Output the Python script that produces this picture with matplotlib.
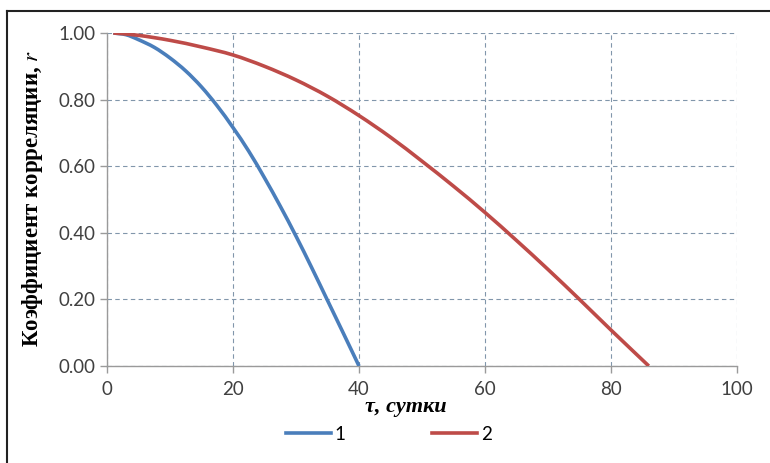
import matplotlib
matplotlib.use('Agg')
import matplotlib.pyplot as plt
from matplotlib.lines import Line2D
from matplotlib.path import Path
from matplotlib.patches import PathPatch

# curve 1
tau_1 = [1, 3, 5, 7.5, 10, 12.5, 15, 17.5, 20, 22.5, 25, 27.5, 30, 32.5, 35, 37.5, 40]
r_1 = [1.0, 0.995, 0.98, 0.957, 0.925, 0.886, 0.838, 0.781, 0.716, 0.645, 0.565,
       0.48, 0.39, 0.295, 0.197, 0.099, 0.0]

# curve 2
tau_2 = [1, 5, 10, 15, 20, 25, 30, 35, 40, 45, 50, 55, 60, 65, 70, 75, 80, 86]
r_2 = [1.0, 0.993, 0.978, 0.958, 0.934, 0.90, 0.859, 0.81, 0.752, 0.687, 0.615,
       0.54, 0.461, 0.377, 0.29, 0.20, 0.108, 0.0]

x_ticks = [0, 20, 40, 60, 80, 100]
y_ticks = [0.0, 0.2, 0.4, 0.6, 0.8, 1.0]
series_names = ['1', '2']

blue = '#4a7ebb'
red = '#be4b48'
lw = 2.6


def smooth_path(xs, ys):
    # excel-like smoothed line: bezier segments through the points
    pts = list(zip(xs, ys))
    verts = [pts[0]]
    codes = [Path.MOVETO]
    n = len(pts)
    for i in range(n - 1):
        p0 = pts[i - 1] if i > 0 else pts[i]
        p1 = pts[i]
        p2 = pts[i + 1]
        p3 = pts[i + 2] if i + 2 < n else pts[i + 1]
        c1 = (p1[0] + (p2[0] - p0[0]) / 6, p1[1] + (p2[1] - p0[1]) / 6)
        c2 = (p2[0] - (p3[0] - p1[0]) / 6, p2[1] - (p3[1] - p1[1]) / 6)
        verts += [c1, c2, p2]
        codes += [Path.CURVE4] * 3
    return Path(verts, codes)


plt.rcParams['mathtext.fontset'] = 'stix'

fig = plt.figure(figsize=(7.7, 4.63), dpi=100)
ax = fig.add_axes([107 / 770, 1 - 366 / 463, 630 / 770, 333 / 463])

ax.add_patch(PathPatch(smooth_path(tau_1, r_1), facecolor='none', edgecolor=blue,
                       linewidth=lw, capstyle='butt', zorder=3))
ax.add_patch(PathPatch(smooth_path(tau_2, r_2), facecolor='none', edgecolor=red,
                       linewidth=lw, capstyle='butt', zorder=3))

ax.set_xlim(0, 100)
ax.set_ylim(0, 1.0)
ax.set_xticks(x_ticks)
ax.set_yticks(y_ticks)
ax.set_yticklabels(['%.2f' % v for v in y_ticks])
ax.grid(True, color='#8196ab', linestyle=(0, (4, 3)), linewidth=0.8)
ax.set_axisbelow(True)

for side in ['top', 'right']:
    ax.spines[side].set_visible(False)
for side in ['left', 'bottom']:
    ax.spines[side].set_color('#9a9a9a')
    ax.spines[side].set_linewidth(1.0)

ax.tick_params(axis='both', colors='#9a9a9a', length=5, width=1.0,
               labelcolor='#404040', labelsize=13.5)
ax.tick_params(axis='x', pad=6)
ax.tick_params(axis='y', pad=3)
for lab in ax.get_xticklabels() + ax.get_yticklabels():
    lab.set_fontfamily('Lato')

fig.text(33 / 770, 1 - 198 / 463, 'Коэффициент корреляции, $r$', rotation=90,
         ha='center', va='center', fontsize=16.5, fontweight='bold',
         family='Liberation Serif')
fig.text(365 / 770, 1 - 407 / 463, 'τ, сутки', ha='left', va='center',
         fontsize=16, fontweight='bold', fontstyle='italic',
         family='Liberation Serif')

handles = [Line2D([], [], color=blue, linewidth=lw),
           Line2D([], [], color=red, linewidth=lw)]
leg = fig.legend(handles, series_names, loc='center', ncol=2, frameon=False,
                 bbox_to_anchor=(389 / 770, 1 - 434 / 463), handlelength=2.4,
                 handletextpad=0.2, columnspacing=4.6,
                 prop={'family': 'Lato', 'size': 13.5})

# outer frame (top and left edges visible)
fig.add_artist(Line2D([7 / 770, 1.0], [1 - 11 / 463, 1 - 11 / 463],
                      color='#222222', linewidth=1.5, transform=fig.transFigure))
fig.add_artist(Line2D([7 / 770, 7 / 770], [0, 1 - 11 / 463],
                      color='#222222', linewidth=1.5, transform=fig.transFigure))

fig.savefig('out.png', dpi=100)
